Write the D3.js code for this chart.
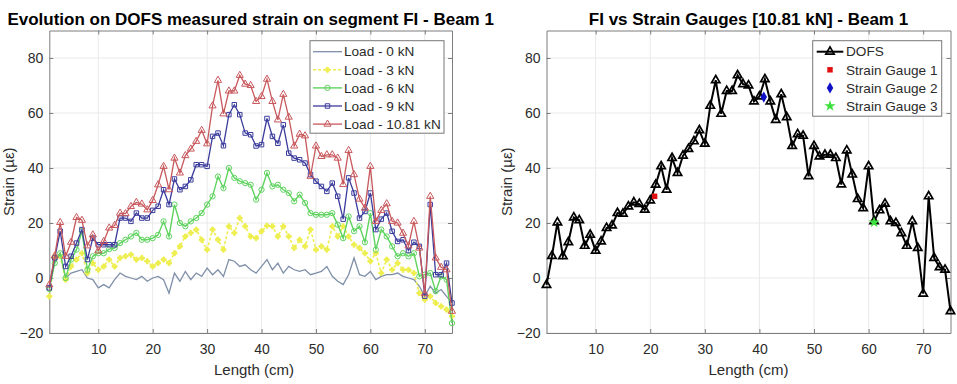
<!DOCTYPE html>
<html>
<head>
<meta charset="utf-8">
<script src="https://cdn.jsdelivr.net/npm/d3@7"></script>
<style>
	body { margin: 0; background: #fff; }
	text { font-family: "Liberation Sans", Arial, sans-serif; }
</style>
</head>
<body>
<svg id="chart" width="957" height="384"></svg>
<script>
// positions along the segment (cm)
const lengthCm = [1,2,3,4,5,6,7,8,9,10,11,12,13,14,15,16,17,18,19,20,21,22,23,24,25,26,27,28,29,30,31,32,33,34,35,36,37,38,39,40,41,42,43,44,45,46,47,48,49,50,51,52,53,54,55,56,57,58,59,60,61,62,63,64,65,66,67,68,69,70,71,72,73,74,75]

// measured strain (µε) per load step
const load0 = [-3,6.7,9,0,1.8,2.4,3,0,-0.6,-3.6,-2.4,-3.6,-0.6,1.8,0.6,0,-0.6,0.6,-1.2,0,0.6,-0.6,-5.5,1.8,-1.2,2.4,-0.6,1.8,0.6,3.6,1.2,3,0.6,6.7,6.1,4.2,4.8,3,1.8,4.2,6.7,3,5.4,1.8,4.2,3,2.4,3,1.2,1.8,2.4,4.2,0.6,-1.2,-2.4,1.2,7.3,1.2,0.6,2.4,-0.6,0.6,1.2,1.2,1.8,0.6,0,-0.6,-3,-6.7,-3,-5.5,-4.2,-6.7,-9]
const load3 = [-6.7,7.9,7.9,-0.6,4.2,6.7,9,1.8,5.4,3,4.2,6.7,4.2,7.3,7.9,8.5,6.7,7.3,6.1,4.2,5.4,6.7,5.4,9,11.5,15.1,16.4,17.6,13.9,10.3,17.6,13.9,10.3,18.8,16.4,21.8,18.8,15.1,14.5,17,19,18.8,15.1,18.8,15.1,10.9,13.9,11.5,17.6,10.3,11.5,10.3,18.8,15.1,18.8,15.1,12.1,10.9,9,6.1,9,1.8,6.7,3,5.4,3,3,1.8,-5.5,-7.9,-6.7,-9.1,-10.3,-11.5,-13.9]
const load6 = [-4,5.4,9,0,6.7,10.3,17,3,7.9,9,9,10.5,10.9,12.7,13.9,15.1,16.4,13.9,13.9,14.5,15.7,20.6,15.1,26.7,20,18.8,20.6,21.8,23.6,26.7,29.7,36.9,32.7,40,36.4,35.2,34.5,33.9,28.5,32.1,38.2,33.3,33.9,32.1,30.9,27.9,30.3,27.3,23.6,23,23,23,23.6,19.4,14.5,22.4,17,18.8,13,23.6,10.3,17.6,15.1,11.5,7.9,9,7.9,9,0.6,1.2,1.8,-4.8,0.6,-0.6,-16.4]
const load9 = [-3.6,7.3,17,4.2,7.9,12.7,17.6,6.7,14.5,12.1,12.1,12.1,12.1,21.8,21.8,20.6,23.6,21.8,21.8,24.6,26.1,32.1,26.7,36,32.1,33.3,35.7,41.2,41.2,40.6,51.5,52.7,48.1,59.4,63,59.4,52.7,52.1,48,48.5,58,51.5,49,55.7,45.4,43.6,43,41.8,37.6,35.2,33.3,31.5,34.5,29.7,21.4,36.4,30.9,21.8,24.2,30.9,17.6,21.4,23.6,17,13.3,13.9,10,13,11.5,-6.6,26.7,1.2,1.2,5.4,-9.1]
const load1081 = [-2.5,8,20.2,7.9,13,22,21,11.7,15.7,9.9,13.3,18.2,19.1,23.6,23.4,26,27.5,26.9,24.8,28.2,33.9,40.6,32.1,43.6,38.2,44.5,46.9,49.7,53.7,48.8,62.6,71.9,59.7,68,68,73.7,70.5,70,64.2,66,72.3,64.2,57.5,66.8,58.5,48,52.3,51.7,37,48,44.2,44.8,44.8,43.6,34,46.4,37.6,28.7,25.4,40.6,20.6,24.6,27,20.6,20,16.3,11.7,20.6,10.9,-5.7,29.7,7.3,3.9,3,-12.1]

const loadLabels = ["Load - 0 kN", "Load - 3 kN", "Load - 6 kN", "Load - 9 kN", "Load - 10.81 kN"]

// strain gauges at 10.81 kN
const gaugeLength = [20.8, 40.8, 61]
const gaugeStrain = [29.7, 65.8, 20.2]
const gaugeLabels = ["Strain Gauge 1", "Strain Gauge 2", "Strain Gauge 3"]

const xTicks = [10, 20, 30, 40, 50, 60, 70]
const yTicks = [-20, 0, 20, 40, 60, 80]

const svg = d3.select("#chart")
const plotTop = 30.5, plotBottom = 333
const axisColor = "#7d7d7d"
const textColor = "#2b2b2b"

function makePanel(left, right, title, xLabelX, yLabelX) {
	const x = d3.scaleLinear().domain([1, 75]).range([left, right])
	const y = d3.scaleLinear().domain([-20, 90]).range([plotBottom, plotTop])
	const g = svg.append("g")

	// grid
	g.selectAll(".gx").data(xTicks).enter().append("line")
		.attr("x1", d => x(d)).attr("x2", d => x(d))
		.attr("y1", plotTop).attr("y2", plotBottom)
		.attr("stroke", "#e9e9e9").attr("stroke-width", 1)
	g.selectAll(".gy").data(yTicks).enter().append("line")
		.attr("x1", left).attr("x2", right)
		.attr("y1", d => y(d)).attr("y2", d => y(d))
		.attr("stroke", "#e9e9e9").attr("stroke-width", 1)

	// axes (ticks inside, box all round)
	const axes = [
		[d3.axisBottom(x).tickValues(xTicks), `translate(0,${plotBottom})`, true],
		[d3.axisTop(x).tickValues(xTicks), `translate(0,${plotTop})`, false],
		[d3.axisLeft(y).tickValues(yTicks), `translate(${left},0)`, true],
		[d3.axisRight(y).tickValues(yTicks), `translate(${right},0)`, false],
	]
	axes.forEach(([ax, tr, labels], i) => {
		ax.tickSizeInner(-4).tickSizeOuter(0).tickPadding(i === 0 ? 11 : 6)
		if (!labels) ax.tickFormat("")
		const a = g.append("g").attr("transform", tr).call(ax)
		a.select(".domain").attr("stroke", axisColor)
		a.selectAll(".tick line").attr("stroke", axisColor)
		a.selectAll("text").attr("fill", textColor)
			.style("font-size", "14px")
			.style("font-family", "Liberation Sans, Arial, sans-serif")
	})

	// labels
	g.append("text")
		.attr("x", (left + right) / 2).attr("y", 25)
		.attr("text-anchor", "middle")
		.style("font-size", "17px").style("font-weight", "bold")
		.attr("fill", "#000")
		.text(title)
	g.append("text")
		.attr("x", xLabelX).attr("y", 375)
		.attr("text-anchor", "middle")
		.style("font-size", "15px").attr("fill", textColor)
		.text("Length (cm)")
	g.append("text")
		.attr("transform", `translate(${yLabelX},${(plotTop + plotBottom) / 2}) rotate(-90)`)
		.attr("text-anchor", "middle")
		.attr("dy", "0.35em")
		.style("font-size", "15px").attr("fill", textColor)
		.text("Strain (µε)")

	return { g, x, y }
}

// ---------- left panel ----------
const L = makePanel(49.3, 452, "Evolution on DOFS measured strain on segment FI - Beam 1", 254, 9)

const loadSeries = [
	{ values: load0, color: "#7f8fa8", symbol: null, width: 1.3 },
	{ values: load3, color: "#eeee50", symbol: d3.symbolCross, size: 14, width: 1.6, dash: "3,2" },
	{ values: load6, color: "#5fd35f", symbol: d3.symbolCircle, size: 22, width: 1.4 },
	{ values: load9, color: "#3b3c9c", symbol: d3.symbolSquare, size: 20, width: 1.3 },
	{ values: load1081, color: "#c8585c", symbol: d3.symbolTriangle, size: 22, width: 1.3 },
]

const leftLine = d3.line()
	.x((d, i) => L.x(lengthCm[i]))
	.y(d => L.y(d))

loadSeries.forEach(s => {
	L.g.append("path")
		.datum(s.values)
		.attr("fill", "none")
		.attr("stroke", s.color)
		.attr("stroke-width", s.width)
		.attr("stroke-dasharray", s.dash || null)
		.attr("d", leftLine)
	if (s.symbol) {
		L.g.append("g").selectAll("path")
			.data(s.values)
			.enter().append("path")
			.attr("transform", (d, i) => `translate(${L.x(lengthCm[i])},${L.y(d)})`)
			.attr("d", d3.symbol().type(s.symbol).size(s.size))
			.attr("fill", s.symbol === d3.symbolCross ? s.color : "none")
			.attr("stroke", s.color)
			.attr("stroke-width", 1)
	}
})

// left legend
const legL = L.g.append("g")
legL.append("rect")
	.attr("x", 310).attr("y", 40.7).attr("width", 134).attr("height", 92.5)
	.attr("fill", "#fff").attr("stroke", "#777").attr("stroke-width", 1)
loadSeries.forEach((s, i) => {
	const yy = 51.7 + i * 18.1
	legL.append("line")
		.attr("x1", 313).attr("x2", 342).attr("y1", yy).attr("y2", yy)
		.attr("stroke", s.color).attr("stroke-width", s.width)
		.attr("stroke-dasharray", s.dash || null)
	if (s.symbol) {
		legL.append("path")
			.attr("transform", `translate(327.5,${yy})`)
			.attr("d", d3.symbol().type(s.symbol).size(s.size))
			.attr("fill", s.symbol === d3.symbolCross ? s.color : "none")
			.attr("stroke", s.color)
	}
	legL.append("text")
		.attr("x", 344).attr("y", yy).attr("dy", "0.35em")
		.style("font-size", "13.6px").attr("fill", textColor)
		.text(loadLabels[i])
})

// ---------- right panel ----------
const R = makePanel(546.5, 950.5, "FI vs Strain Gauges [10.81 kN] - Beam 1", 748.5, 507)

const rightLine = d3.line()
	.x((d, i) => R.x(lengthCm[i]))
	.y(d => R.y(d))

R.g.append("path")
	.datum(load1081)
	.attr("fill", "none")
	.attr("stroke", "#000")
	.attr("stroke-width", 2)
	.attr("d", rightLine)

R.g.append("g").selectAll("path")
	.data(load1081)
	.enter().append("path")
	.attr("transform", (d, i) => `translate(${R.x(lengthCm[i])},${R.y(d)})`)
	.attr("d", d3.symbol().type(d3.symbolTriangle).size(30))
	.attr("fill", "none")
	.attr("stroke", "#000")
	.attr("stroke-width", 1.7)

const gauges = [
	{ symbol: d3.symbolSquare, color: "#e01010", size: 30 },
	{ symbol: d3.symbolDiamond, color: "#1010c8", size: 36 },
	{ symbol: d3.symbolStar, color: "#3ee03e", size: 40 },
]
gauges.forEach((s, i) => {
	R.g.append("path")
		.attr("transform", `translate(${R.x(gaugeLength[i])},${R.y(gaugeStrain[i])})`)
		.attr("d", d3.symbol().type(s.symbol).size(s.size))
		.attr("fill", s.color)
})

// right legend
const legR = R.g.append("g")
legR.append("rect")
	.attr("x", 812.7).attr("y", 40.7).attr("width", 129).attr("height", 75.5)
	.attr("fill", "#fff").attr("stroke", "#777").attr("stroke-width", 1)
legR.append("line")
	.attr("x1", 816.7).attr("x2", 843.3).attr("y1", 51.7).attr("y2", 51.7)
	.attr("stroke", "#000").attr("stroke-width", 2)
legR.append("path")
	.attr("transform", "translate(830,51.7)")
	.attr("d", d3.symbol().type(d3.symbolTriangle).size(30))
	.attr("fill", "none").attr("stroke", "#000").attr("stroke-width", 1.7)
legR.append("text")
	.attr("x", 846).attr("y", 51.7).attr("dy", "0.35em")
	.style("font-size", "13.6px").attr("fill", textColor)
	.text("DOFS")
gauges.forEach((s, i) => {
	const yy = 51.7 + (i + 1) * 18.1
	legR.append("path")
		.attr("transform", `translate(830,${yy})`)
		.attr("d", d3.symbol().type(s.symbol).size(s.size))
		.attr("fill", s.color)
	legR.append("text")
		.attr("x", 846).attr("y", yy).attr("dy", "0.35em")
		.style("font-size", "13.6px").attr("fill", textColor)
		.text(gaugeLabels[i])
})
</script>
</body>
</html>
